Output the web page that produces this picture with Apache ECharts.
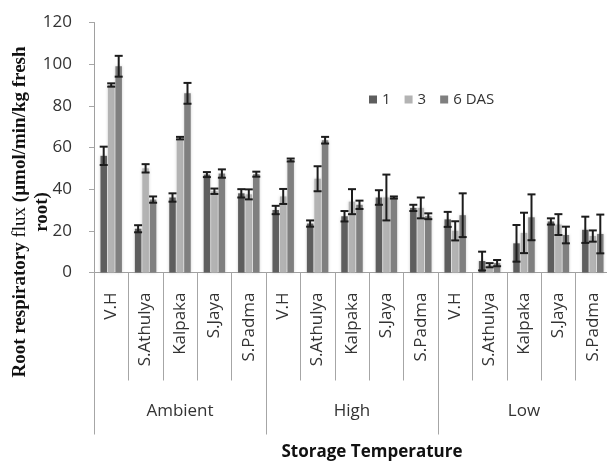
<!DOCTYPE html>
<html>
<head>
<meta charset="utf-8">
<script src="https://cdn.jsdelivr.net/npm/echarts@6/dist/echarts.min.js"></script>
<style>
  html, body { margin: 0; padding: 0; background: #fff; }
  #chart { width: 607px; height: 463px; }
</style>
</head>
<body>
<div id="chart"></div>
<script>
    // cultivars, repeated for each storage temperature
    const cultivars = ['V.H', 'S.Athulya', 'Kalpaka', 'S.Jaya', 'S.Padma']
    const temps = ['Ambient', 'High', 'Low']
    const categories = temps.flatMap(() => cultivars)
    const yTicks = [0, 20, 40, 60, 80, 100, 120]

    // days after storage
    const das1 = [56, 21, 36, 47, 38, 30, 23.5, 27, 36, 31, 25.5, 5.5, 14, 24.5, 20.5]
    const das1Err = [4.4, 1.7, 2, 1.2, 2, 2, 1.5, 2.5, 3.5, 1.5, 3.6, 4.5, 8.8, 1.5, 6.3]
    const das3 = [90, 50, 64.5, 39, 37.5, 36.5, 45, 34, 36, 31, 20, 3.5, 19, 23, 17.5]
    const das3Err = [0.8, 2, 0.6, 1.3, 2.4, 3.6, 6, 6, 11, 5, 4.6, 1, 9.7, 5, 2.7]
    const das6 = [99, 35, 86, 47.5, 47.2, 54, 63.5, 32.5, 36, 27, 27.5, 4.5, 26.5, 18, 18.5]
    const das6Err = [5, 1.5, 5, 2, 1.2, 0.7, 1.6, 2, 0.5, 1.4, 10.5, 1.5, 11, 4, 9.3]

    const seriesNames = ['1', '3', '6 DAS']
    const colors = ['#5e5e5e', '#b3b3b3', '#7f7f7f']

    const barWidth = 6.5
    const barStep = 7.5   // barWidth + gap

    const target = document.getElementById('chart')
    const mChart = echarts.init(target)

    function errorSeries(values, errs, k) {
        const offset = (k - 1) * barStep
        return {
            type: 'custom',
            xAxisIndex: 0,
            z: 5,
            silent: true,
            data: values.map((v, i) => [i, v, errs[i]]),
            encode: {x: 0, y: 1},
            renderItem: function (params, api) {
                const idx = api.value(0)
                const v = api.value(1)
                const e = api.value(2)
                const hi = api.coord([idx, v + e])
                const lo = api.coord([idx, v - e])
                const x = hi[0] + offset
                const cap = 4
                const style = {stroke: '#1c1c1c', lineWidth: 2}
                return {
                    type: 'group',
                    children: [
                        {type: 'line', shape: {x1: x, y1: hi[1], x2: x, y2: lo[1]}, style: style},
                        {type: 'line', shape: {x1: x - cap, y1: hi[1], x2: x + cap, y2: hi[1]}, style: style},
                        {type: 'line', shape: {x1: x - cap, y1: lo[1], x2: x + cap, y2: lo[1]}, style: style}
                    ]
                }
            }
        }
    }

    function barSeries(name, values, k) {
        return {
            name: name,
            type: 'bar',
            xAxisIndex: 0,
            barWidth: barWidth,
            barGap: '15%',
            itemStyle: {
                color: colors[k],
                shadowBlur: 3,
                shadowColor: 'rgba(140,140,140,0.45)'
            },
            data: values
        }
    }

    const option = {
        animation: false,
        color: colors,
        textStyle: {fontFamily: '"Open Sans", sans-serif'},
        legend: {
            data: seriesNames,
            left: 364,
            top: 87,
            itemWidth: 8,
            itemHeight: 8,
            itemGap: 14,
            icon: 'rect',
            textStyle: {fontSize: 15, color: '#333', fontFamily: '"Open Sans"'}
        },
        grid: {
            left: 94,
            right: -3,
            top: 22.5,
            bottom: 190.5,
            containLabel: false,
            outerBoundsMode: 'none'
        },
        xAxis: [
            {
                type: 'category',
                data: categories,
                position: 'bottom',
                axisLine: {show: true, lineStyle: {color: '#a0a0a0', width: 1}},
                axisTick: {show: true, interval: 0, length: 108, lineStyle: {color: '#a6a6a6'}},
                axisLabel: {
                    interval: 0,
                    rotate: 90,
                    margin: 20,
                    fontSize: 17,
                    color: '#333',
                    fontFamily: '"Open Sans"'
                },
                splitLine: {show: false}
            },
            {
                type: 'category',
                data: temps,
                position: 'bottom',
                axisLine: {show: false},
                axisTick: {show: true, interval: 0, length: 162, lineStyle: {color: '#a6a6a6'}},
                axisLabel: {
                    interval: 0,
                    margin: 130,
                    fontSize: 17,
                    color: '#333',
                    fontFamily: '"Open Sans"'
                },
                splitLine: {show: false}
            }
        ],
        yAxis: {
            type: 'value',
            min: yTicks[0],
            max: yTicks[yTicks.length - 1],
            interval: 20,
            axisLine: {show: true, lineStyle: {color: '#a0a0a0'}},
            axisTick: {show: true, length: 5, lineStyle: {color: '#a6a6a6'}},
            axisLabel: {
                margin: 22,
                fontSize: 17,
                color: '#333',
                fontFamily: '"Open Sans"'
            },
            splitLine: {show: false}
        },
        graphic: [
            {
                type: 'text',
                x: 31,
                y: 212,
                rotation: Math.PI / 2,
                style: {
                    text: '{b|Root respiratory }{r|flux}{b| (µmol/min/kg fresh}\n{b|root)}',
                    align: 'center',
                    verticalAlign: 'middle',
                    fill: '#111',
                    rich: {
                        b: {fontFamily: '"Liberation Serif", serif', fontWeight: 'bold', fontSize: 19, lineHeight: 22, fill: '#111'},
                        r: {fontFamily: '"Liberation Serif", serif', fontWeight: 'normal', fontSize: 19, lineHeight: 22, fill: '#111'}
                    }
                }
            },
            {
                type: 'text',
                x: 372,
                y: 452,
                style: {
                    text: 'Storage Temperature',
                    align: 'center',
                    verticalAlign: 'middle',
                    fill: '#111',
                    font: 'bold 17px "Open Sans"'
                }
            }
        ],
        series: [
            barSeries(seriesNames[0], das1, 0),
            barSeries(seriesNames[1], das3, 1),
            barSeries(seriesNames[2], das6, 2),
            errorSeries(das1, das1Err, 0),
            errorSeries(das3, das3Err, 1),
            errorSeries(das6, das6Err, 2)
        ]
    }
    mChart.setOption(option)
    window.addEventListener('resize', function () {
        mChart.resize()
    })
</script>
</body>
</html>
